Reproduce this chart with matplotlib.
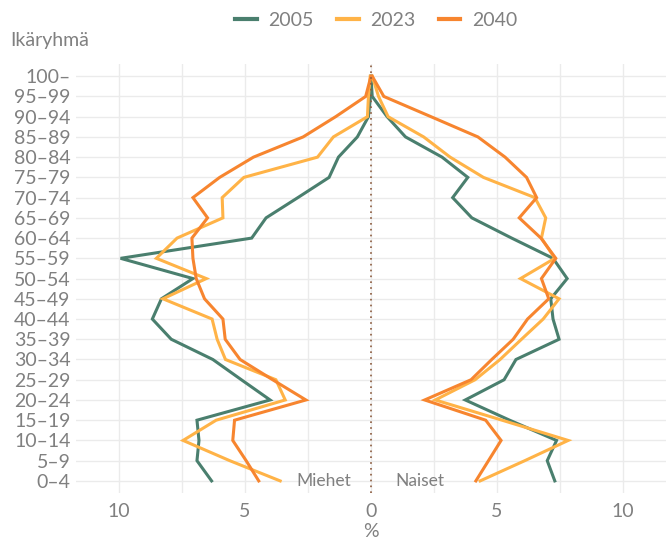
import numpy as np
import matplotlib.pyplot as plt
from matplotlib.lines import Line2D

plt.rcParams['font.family'] = ['Lato', 'DejaVu Sans']

# age groups, bottom to top
ages = ['0–4', '5–9', '10–14', '15–19', '20–24', '25–29', '30–34', '35–39',
        '40–44', '45–49', '50–54', '55–59', '60–64', '65–69', '70–74',
        '75–79', '80–84', '85–89', '90–94', '95–99', '100–']

# share of population, % (men shown on the left as negatives)
men_2005 = [6.32, 6.9, 6.82, 6.9, 4.0, 5.14, 6.27, 7.92, 8.67, 8.31, 7.06,
            9.93, 4.73, 4.16, 2.9, 1.66, 1.29, 0.54, 0.1, 0.02, 0.0]
men_2023 = [3.6, 5.6, 7.45, 6.14, 3.4, 3.77, 5.77, 6.1, 6.3, 8.25, 6.53,
            8.51, 7.69, 5.87, 5.9, 5.04, 2.12, 1.49, 0.14, 0.1, 0.03]
men_2040 = [4.45, 4.95, 5.48, 5.41, 2.58, 3.9, 5.19, 5.78, 5.87, 6.6, 6.93,
            7.06, 7.1, 6.48, 7.06, 6.0, 4.66, 2.69, 1.4, 0.21, 0.0]

women_2005 = [7.29, 6.99, 7.36, 5.5, 3.74, 5.28, 5.75, 7.46, 7.22, 7.13, 7.78,
              7.22, 5.58, 4.0, 3.24, 3.84, 2.82, 1.37, 0.64, 0.05, 0.0]
women_2023 = [4.33, 6.1, 7.82, 5.2, 2.55, 4.13, 5.12, 5.97, 6.83, 7.46, 5.93,
              7.29, 6.76, 6.93, 6.5, 4.46, 3.14, 2.09, 0.68, 0.3, 0.05]
women_2040 = [4.16, 4.66, 5.16, 4.55, 2.13, 3.97, 4.79, 5.64, 6.21, 7.05, 6.76,
              7.33, 6.74, 5.88, 6.57, 6.17, 5.32, 4.24, 2.38, 0.51, 0.05]

years = ['2005', '2023', '2040']
colors = ['#4a7f6e', '#ffb347', '#f7852f']
men = [men_2005, men_2023, men_2040]
women = [women_2005, women_2023, women_2040]

grey = '#808080'

fig = plt.figure(figsize=(6.66, 5.43), dpi=100)
ax = fig.add_axes([0.114, 0.092, 0.886, 0.79])

y = np.arange(len(ages))
for m, w, c in zip(men, women, colors):
    ax.plot(-np.array(m), y, color=c, lw=2.2, solid_joinstyle='miter')
    ax.plot(w, y, color=c, lw=2.2, solid_joinstyle='miter')

# zero line
ax.axvline(0, color='#8b5a3c', lw=1.2, ls=(0, (1, 2.5)))

ax.set_xlim(-11.7, 11.7)
ax.set_ylim(-0.6, len(ages) - 0.4)
ax.set_yticks(y)
ax.set_yticklabels(ages)
ax.set_xticks([-10, -5, 0, 5, 10])
ax.set_xticklabels(['10', '5', '0', '5', '10'])
ax.set_xticks(np.arange(-10, 11, 2.5), minor=True)

ax.grid(True, which='both', color='#ebebeb', lw=1)
ax.set_axisbelow(True)
for s in ax.spines.values():
    s.set_visible(False)
ax.tick_params(axis='y', length=0, labelsize=14, labelcolor=grey, pad=4)
ax.tick_params(axis='x', length=0, labelsize=14, labelcolor=grey, pad=7)
ax.tick_params(which='minor', length=0)

ax.set_xlabel('%', fontsize=14, color=grey, labelpad=2)

ax.text(-0.8, 0, 'Miehet', ha='right', va='center', fontsize=12.5, color=grey)
ax.text(0.95, 0, 'Naiset', ha='left', va='center', fontsize=12.5, color=grey)

fig.text(0.015, 0.925, 'Ikäryhmä', ha='left', va='center', fontsize=14,
         color=grey)

handles = [Line2D([0], [0], color=c, lw=3) for c in colors]
leg = fig.legend(handles, years, loc='center', bbox_to_anchor=(0.565, 0.962),
                 ncol=3, frameon=False, fontsize=14, handlelength=1.1,
                 handletextpad=0.6, columnspacing=1.2)
for t in leg.get_texts():
    t.set_color(grey)

fig.savefig('out.png', dpi=100)
